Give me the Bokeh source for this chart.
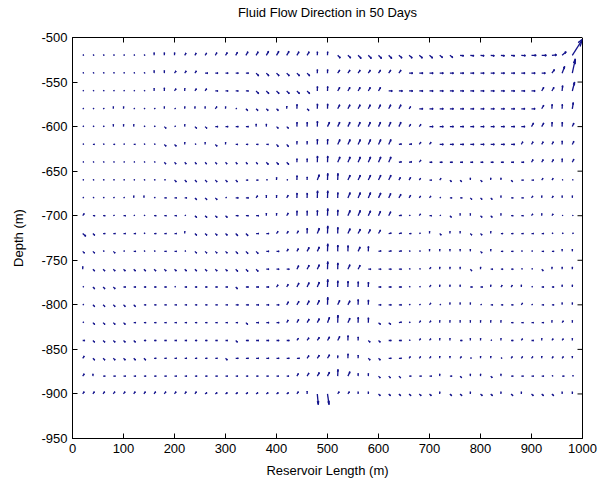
import numpy as np
from bokeh.plotting import figure
from bokeh.models import ColumnDataSource, FixedTicker, Range1d, Title, LinearAxis
from bokeh.embed import file_html
from bokeh.resources import INLINE

TITLE = "Fluid Flow Direction in 50 Days"
X_LABEL = "Reservoir Length (m)"
Y_LABEL = "Depth (m)"
X_TICKS = [0, 100, 200, 300, 400, 500, 600, 700, 800, 900, 1000]
Y_TICKS = [-950, -900, -850, -800, -750, -700, -650, -600, -550, -500]

# grid columns (m) and rows (depth, m)
XS = [20, 40, 60, 80, 100, 120, 140, 160, 180, 200, 220, 240, 260, 280, 300, 320, 340,
      360, 380, 400, 420, 440, 460, 480, 500, 520, 540, 560, 580, 600, 620, 640, 660, 680,
      700, 720, 740, 760, 780, 800, 820, 840, 860, 880, 900, 920, 940, 960, 980]
YS = [-520, -540, -560, -580, -600, -620, -640, -660, -680, -700,
      -720, -740, -760, -780, -800, -820, -840, -860, -880, -900]

# horizontal (U) and vertical (V) components, one list per row
U1 = [2]*7 + [0.2]*3 + [2.5, 2.5, 3, 3, 3.5] + [3.5, 4, 4, 4.5, 4.5, 4.5, 4, 4] + [0.3, 0.3] + [5, 5.5, 6, 6, 6, 6, 6, 6, 6, 6, 5.5, 5.5] + [7]*6 + [8, 9, 9, 9] + [8, 20]
V1 = [0.5]*7 + [3]*3 + [2.5, 2.5, 2.5, 3, 3] + [3.5, 4, 4, 4.5, 4.5, 4.5, 4, 4] + [4, 4] + [-3, -3, -3.5, -3.5, -3.5, -3.5, -3, -3, -3, -3, -2.5, -2.5] + [-0.5]*6 + [-0.3, 0, 0, 0.5] + [4, 18]
U2 = [2]*7 + [0.2]*2 + [3]*3 + [5]*5 + [5]*6 + [0.2]*2 + [4]*7 + [7]*14 + [5, 5, 6]
V2 = [0.5]*7 + [3]*2 + [2.5]*3 + [0]*5 + [-3]*6 + [4]*2 + [3.5]*7 + [0]*14 + [4, 7.5, 16]
U3 = [2]*7 + [0.2, 0.2, 3, 0.2, 3, 3] + [5]*4 + [5]*6 + [0.3]*2 + [4]*5 + [7]*15 + [4, 4, 1, 4.5]
V3 = [0.5]*7 + [3, 3.5, 2.5, 3, 2.5, 2.5] + [0]*4 + [-3]*6 + [5]*2 + [4]*5 + [0]*15 + [4, 4, 6, 10]
U4 = [2, 2, 2, 0.2, 0.2, 2, 2, 2, 0.2, 2, 0.2, 0.2, 0.2, 3, 0.2, 2] + [3.5]*4 + [0.2, 0.3, 3.5, 0.3, 0.3] + [4]*7 + [3] + [7]*12 + [4, 0.5, 0.5, 2]
V4 = [0.5, 0.5, 0.5, 2.5, 2.5, 0.5, 0.5, 0.5, 2.5, 0.5, 2.5, 2.5, 2.5, 2.5, 2.5, 0.5] + [-2]*4 + [3, 5, -2, 5.5, 5.5] + [4.5]*7 + [2.5] + [0]*12 + [4, 5, 5, 7]
U5 = [2, 2, 2, 0.2, 0.2, 0.2, 2, 2, 3.5, 2, 0.2, 3.5, 3.5] + [5]*4 + [0.2, 0.2, 3.5, 3.5, 0.3, 0.3, 0.3] + [4]*8 + [3, 3] + [7]*10 + [4, 4, 0.5, 0.5, 3]
V5 = [0.5, 0.5, 0.5, 2.5, 2.5, 2.5, 0.5, 0.5, -2, 0.5, 2.5, -2, -2] + [0]*4 + [3, 3, -2, -2, 5, 5, 6] + [5]*8 + [2.5, 2.5] + [0]*10 + [4, 4, 5, 5, 4]
U6 = [2, 3, 2, 3, 2, 3, 2, 2, 3.5, 3.5, 0.2, 2, 0.2, 3.5, 0.2] + [4]*4 + [3.5, 3.5, 0.2, 0.2, 0.3, 0.3] + [4.5]*6 + [5, 5, 3, 3] + [7]*8 + [3]*4 + [0.3, 3]
V6 = [0.5, 0, 0.5, 0, 0.5, 0, 0.5, 0.5, -2, -2, 2.5, 0.5, 2.5, -2, 2.5] + [0]*4 + [-2.5, -2.5, 3.5, 3.5, 6, 6] + [5.5]*6 + [0.5, 0.5, 2.5, 2.5] + [0]*8 + [3]*4 + [4, 3.5]
U7 = [2]*8 + [3]*10 + [4]*3 + [0.2, 0.2, 0.4, 0.4] + [4.5]*6 + [5, 5, 3] + [5]*10 + [3]*3 + [0.3, 3]
V7 = [0.5]*8 + [-2]*10 + [-2.5]*3 + [4, 4, 7, 7] + [6]*6 + [0.5, 0.5, 2.5] + [0]*10 + [3]*3 + [4, 3.5]
U8 = [2]*9 + [3.5]*7 + [4, 4, 2, 0.2, 2, 0.3, 0.2, 4, 0.5, 0.5] + [4.5]*5 + [3, 3, 2.5, 4, 2.5, 3, 3, 0.2, 3, 0.2, 0.2, 3, 4, 4, 2.5, 2.5, 1.5, 1.5]
V8 = [0.5]*9 + [-2]*7 + [0, 0, 0.5, 3, 0.5, 5, 3.5, 6, 7.5, 7.5] + [5.5]*5 + [3, 3, 2, 0, 2, -1.8, -1.8, 2.5, -1.8, 2.5, 2.5, -1.8, 0, 0, 2, 2, 0.5, 0.5]
U9 = [2]*5 + [0.2, 0.2, 2, 4, 4, 4, 3.5, 3.5, 3.5, 2, 5, 5, 3, 0.2, 0.2, 3, 0.3, 0.3, 0.5, 0.5, 0.3] + [4.5, 4.5, 4.5, 4.5, 4, 4, 3] + [2.5, 2.5, 2, 4, 4, 3, 3, 3, 0.2, 4, 4, 2.5, 0.2, 2.5, 0.2, 0.2]
V9 = [0.5]*5 + [2.5, 2.5, 0.5, 0, 0, 0, -2, -2, -2, 0.5, 0, 0, 2.5, 3, 3, 3, 5.5, 5.5, 8, 8, 6] + [6, 6, 6, 5.5, 5, 4, 3] + [2, 2, 0.5, 0, 0, -1.8, -1.8, -1.8, 2.5, 0, 0, 2, 2.5, 2, 2.5, 2.5]
U10 = [3, 4, 4, 2, 4, 2, 2, 4, 4, 4, 2, 3.5, 3.5, 3.5, 3.5, 5, 5, 5, 0.2, 0.2, 3, 0.3, 0.3, 0.3, 0.5, 0.3] + [4.5, 4.5, 4.5, 4, 4] + [5, 2, 2.5, 4, 2, 3, 0.2, 0.2, 3, 3, 0.2, 4, 4, 2.5, 0.2, 2.5, 1.5, 1.5]
V10 = [2.5, 0, 0, 0.5, 0, 0.5, 0.5, 0, 0, 0, 0.5, -2, -2, -2, -2, 0, 0, 0, 3, 3, 3, 5.5, 5.5, 6, 8, 6.5] + [6, 6, 5.5, 5, 4.5] + [0.5, 0.5, 2, 0, 0.5, -1.8, 2.5, 2.5, -1.8, -1.8, 2.5, 0, 0, 2, 2.5, 2, 0.5, 0.5]
U11 = [6, 3.5, 4, 4, 4, 4, 2, 4, 4, 4, 0.2, 3.5, 3.5, 3.5, 3.5, 4, 4, 5, 5, 3, 3, 3, 0.3, 4, 0.5, 0.3] + [4.5, 4.5, 4, 4] + [5, 5, 4, 2, 0.2, 3, 0.2, 0.2, 3, 3, 0.2, 4, 4, 4, 4, 4, 2, 2, 2]
V11 = [-3, -2, 0, 0, 0, 0, 0.5, 0, 0, 0, 2.5, -2, -2, -2, -2, -2.5, -2.5, 0, 0, 2.5, 2.5, 3, 6, 6, 8.5, 7] + [5.5, 5, 4.5, 4] + [0.5, 0.5, 0, 0.5, 2.5, -1.8, 2.5, 2.5, -1.8, -1.8, 2.5, 0, 0, 0, 0, 0, 0.5, 0.5, 0.5]
U12 = [3.5, 3.5, 2, 3.5, 2, 4, 2, 2, 4, 4, 2, 3.5, 3.5, 3.5, 3.5, 4, 4, 4, 5, 5, 3, 3, 4, 4, 0.5, 0.3, 0.3, 4, 0.3] + [5, 5, 5, 2, 2] + [0.2]*5 + [3, 0.2, 4, 4, 2, 2, 4, 4, 0.2, 0.2]
V12 = [-2, -2, 0.5, -2, 0.5, 0, 0.5, 0.5, 0, 0, 0.5, -2, -2, -2, -2, -2.5, -2.5, -2.5, 0, 0, 2.5, 3, 4.5, 5, 8.5, 7, 6.5, 5, 5.5] + [0.5]*5 + [2.5]*5 + [-1.8, 2.5, 0, 0, 0.5, 0.5, 0, 0, 2.5, 2.5]
U13 = [0.2] + [3.5]*14 + [4, 4, 4, 5, 5, 5, 3.5, 4, 4, 0.5, 0.3, 4, 4, 5, 5, 5, 5, 2, 2, 2.5, 0.2, 0.2, 0.2, 3, 0.2, 4, 4, 4, 2, 2, 3, 0.2, 0.2, 0.2]
V13 = [3] + [-2]*14 + [-2.5, -2.5, -2.5, 0, 0, 0, 4, 4.5, 5, 8.5, 7, 5, 4.5, 0, 0, 0, 0, 0.5, 0.5, 2, 2.5, 2.5, 2.5, -1.8, 2.5, 0, 0, 0, 0.5, 0.5, -1.8, 2.5, 2.5, 2.5]
U14 = [2, 3.5, 3.5, 3.5, 4, 4, 4, 4, 4, 2, 4, 4, 4, 4, 4, 3.5, 5, 5, 5, 3, 3, 4, 4, 4, 0.5, 0.3, 0.3, 0.3, 0.3, 5, 5, 5, 2, 2, 2.5, 0.2, 0.2, 0.2, 4, 4, 0.2, 2.5, 2.5, 0.2, 2, 4, 4, 0.2, 0.2]
V14 = [0.5, -2, -2, -2, 0, 0, 0, 0, 0, 0.5, 0, 0, 0, 0, 0, -2, 0, 0, 0, 2.5, 3, 4.5, 5, 5.5, 8.5, 7, 6.5, 6, 5.5, 0, 0, 0, 0.5, 0.5, 2, 2.5, 2.5, 2.5, 0, 0, 2.5, 2, 2, 2.5, 0.5, 0, 0, 2.5, 2.5]
U15 = [2] + [3.5]*5 + [4]*9 + [5]*5 + [3.5, 4, 4, 4, 0.5, 4, 4, 0.3, 0.3, 5, 5, 5, 2, 2, 2.5, 2, 0.2, 0.2, 0.2, 2, 4, 4, 4, 2.5, 2, 4, 4, 0.2, 0.2]
V15 = [0.5] + [-2]*5 + [0]*9 + [0]*5 + [3.5, 4, 4.5, 5, 8.5, 5, 4.5, 6, 5.5, 0, 0, 0, 0.5, 0.5, 2, 0.5, 2.5, 2.5, 2.5, 0.5, 0, 0, 0, 2, 0.5, 0, 0, 2.5, 2.5]
U16 = [2] + [3.5]*4 + [4]*11 + [3.5, 5, 5, 5, 3, 3.5, 4, 4, 4, 0.5, 4, 0.3, 0.3, 4, 4, 5, 2, 2.5, 2.5] + [0.2]*7 + [4, 4, 4, 4, 0.2, 2.5, 0.2]
V16 = [0.5] + [-2]*4 + [0]*11 + [-2, 0, 0, 0, 3, 3.5, 4, 4.5, 6, 8.5, 5, 6, 5.5, -2, -2, 0.5, 0.5, 2, 2] + [2.5]*7 + [0, 0, 0, 0, 2.5, 2, 2.5]
U17 = [4] + [3.5]*5 + [4]*9 + [3.5, 5] + [5]*4 + [3, 3.5, 4, 4, 4, 0.3, 0.2, 3.5, 3.5, 5, 5, 2, 2.5, 2.5, 0.2, 0.2, 4, 0.2, 0.2, 2, 0.2, 4, 2.5, 4, 0.2, 2.5, 2.5, 0.2]
V17 = [0] + [-2]*5 + [0]*9 + [-2, 0] + [0]*4 + [2.5, 3, 3.5, 4, 4.5, 5.5, 4, -2, -2, 0, 0, 0.5, 2, 2, 2.5, 2.5, 0, 2.5, 2.5, 0.5, 2.5, 0, 2, 0, 2.5, 2, 2, 2.5]
U18 = [3] + [3.5]*6 + [4]*7 + [3.5] + [5]*7 + [3.5, 4, 4, 0.2, 0.3, 0.2, 3.5, 3.5, 5, 5, 2.5, 2.5, 2.5, 0.2, 0.2, 2.5, 2, 0.2, 0.2, 2, 2.5, 2.5, 2.5, 0.2, 2.5, 2.5, 0.2]
V18 = [2.5] + [-2]*6 + [0]*7 + [-2] + [0]*7 + [3, 3.5, 4, 3, 5, 3.5, -2, -2, 0, 0, 2, 2, 2, 2.5, 2.5, 2, 0.5, 2.5, 2.5, 0.5, 2, 2, 2, 2.5, 2, 2, 2.5]
U19 = [3, 0.2] + [4]*19 + [3, 3.5, 4, 4, 0.5, 4, 0.2, 0.2, 3.5, 3.5, 3.5, 4, 4, 4, 0.2, 4, 3, 0.2, 0.2, 3, 0.2, 4, 4, 4, 4, 2, 4, 2]
V19 = [2.5, 2.5] + [0]*19 + [3, 3.5, 4, 4.5, 7.5, 5, 3, 3, -2, -2, -2, 0, 0, 0, 2.5, 0, -1.8, 2.5, 2.5, -1.8, 2.5, 0, 0, 0, 0, 0.5, 0, 0.5]
U20 = [3]*12 + [3.5]*9 + [3, 0.2, 2, 3, 3, 3, 0.2, 0.2] + [3.5]*6 + [0.2, 3.5, 3.5, 0.2, 3.5, 3.5, 0.2, 3.5, 0.2, 3.5, 3.5, 3.5, 0.2, 0.2]
V20 = [2.5]*12 + [1.5]*9 + [2.5, 3, -12, -12, 2.5, 2.5, 2.5, 2.5] + [-2]*6 + [2.5, -2, -2, 2.5, -2, -2, 2.5, -2, 2.5, -2, -2, -2, 2.5, 2.5]

U_ROWS = [U1, U2, U3, U4, U5, U6, U7, U8, U9, U10, U11, U12, U13, U14, U15, U16, U17, U18, U19, U20]
V_ROWS = [V1, V2, V3, V4, V5, V6, V7, V8, V9, V10, V11, V12, V13, V14, V15, V16, V17, V18, V19, V20]

for i, (ur, vr) in enumerate(zip(U_ROWS, V_ROWS)):
    assert len(ur) == len(XS) and len(vr) == len(XS), (i + 1, len(ur), len(vr))

X, Y = np.meshgrid(np.array(XS, float), np.array(YS, float))
U = np.array(U_ROWS, float)
V = np.array(V_ROWS, float)
x, y, u, v = X.ravel(), Y.ravel(), U.ravel(), V.ravel()

# quiver-style arrow heads (computed in data units, like MATLAB's quiver)
ALPHA, BETA = 0.33, 0.33
tx, ty = x + u, y + v
h1x, h1y = tx - ALPHA * (u + BETA * v), ty - ALPHA * (v - BETA * u)
h2x, h2y = tx - ALPHA * (u - BETA * v), ty - ALPHA * (v + BETA * u)

xs = [[a, b] for a, b in zip(x.tolist(), tx.tolist())] + \
     [[a, b, c] for a, b, c in zip(h1x.tolist(), tx.tolist(), h2x.tolist())]
ys = [[a, b] for a, b in zip(y.tolist(), ty.tolist())] + \
     [[a, b, c] for a, b, c in zip(h1y.tolist(), ty.tolist(), h2y.tolist())]
src = ColumnDataSource(dict(xs=xs, ys=ys))

X_MIN, X_MAX = min(X_TICKS), max(X_TICKS)
Y_MIN, Y_MAX = min(Y_TICKS), max(Y_TICKS)

FONT = "Liberation Sans"
p = figure(width=611, height=480, x_range=Range1d(X_MIN, X_MAX), y_range=Range1d(Y_MIN, Y_MAX),
           output_backend="svg", toolbar_location=None,
           min_border_left=72, min_border_right=29, min_border_top=37, min_border_bottom=41)
p.background_fill_color = "white"
p.border_fill_color = "white"
p.outline_line_color = "black"
p.outline_line_alpha = 1.0
p.xgrid.visible = False
p.ygrid.visible = False

# the figure's own axes, taken before any other panel is added
xa = p.below[0]
ya = p.left[0]

p.multi_line(xs="xs", ys="ys", source=src, line_color="#13138c", line_width=1.3)

# inward tick marks on the top and right edges of the box (MATLAB "box on")
p.ray(x=X_TICKS, y=[Y_MAX] * len(X_TICKS), length=5, length_units="screen",
      angle=-90, angle_units="deg", line_color="black", line_width=1)
p.ray(x=[X_MAX] * len(Y_TICKS), y=Y_TICKS, length=5, length_units="screen",
      angle=180, angle_units="deg", line_color="black", line_width=1)

# a blank panel keeping a gap between the box and the title: one white outward tick at the
# box's right corner (invisible on the white border), no axis line, no tick labels
gap = LinearAxis(ticker=FixedTicker(ticks=[X_MAX]), axis_line_color=None,
                 major_tick_line_color="white", minor_tick_line_color=None,
                 major_label_text_color=None,
                 major_tick_in=0, major_tick_out=18, major_label_standoff=0)
p.add_layout(gap, "above")
p.add_layout(Title(text=TITLE, align="center", vertical_align="bottom", standoff=0,
                   text_font=FONT, text_font_size="13px", text_font_style="normal",
                   text_color="black"), "above")

def style(ax):
    ax.major_tick_in = 5
    ax.major_tick_out = 0
    ax.minor_tick_line_color = None
    ax.axis_line_color = "black"
    ax.major_tick_line_color = "black"
    ax.major_label_text_color = "black"
    ax.major_label_text_font = FONT
    ax.major_label_text_font_size = "13px"
    ax.axis_label_text_font = FONT
    ax.axis_label_text_font_size = "13px"
    ax.axis_label_text_font_style = "normal"
    ax.axis_label_text_color = "black"

style(xa)
xa.ticker = FixedTicker(ticks=X_TICKS)
xa.axis_label = X_LABEL
xa.major_label_standoff = 5
xa.axis_label_standoff = 7

style(ya)
ya.ticker = FixedTicker(ticks=Y_TICKS)
ya.major_label_overrides = {t: str(t) for t in Y_TICKS}
ya.axis_label = Y_LABEL
ya.major_label_standoff = 5
ya.axis_label_standoff = 12

open("out.html", "w").write(file_html(p, INLINE))
